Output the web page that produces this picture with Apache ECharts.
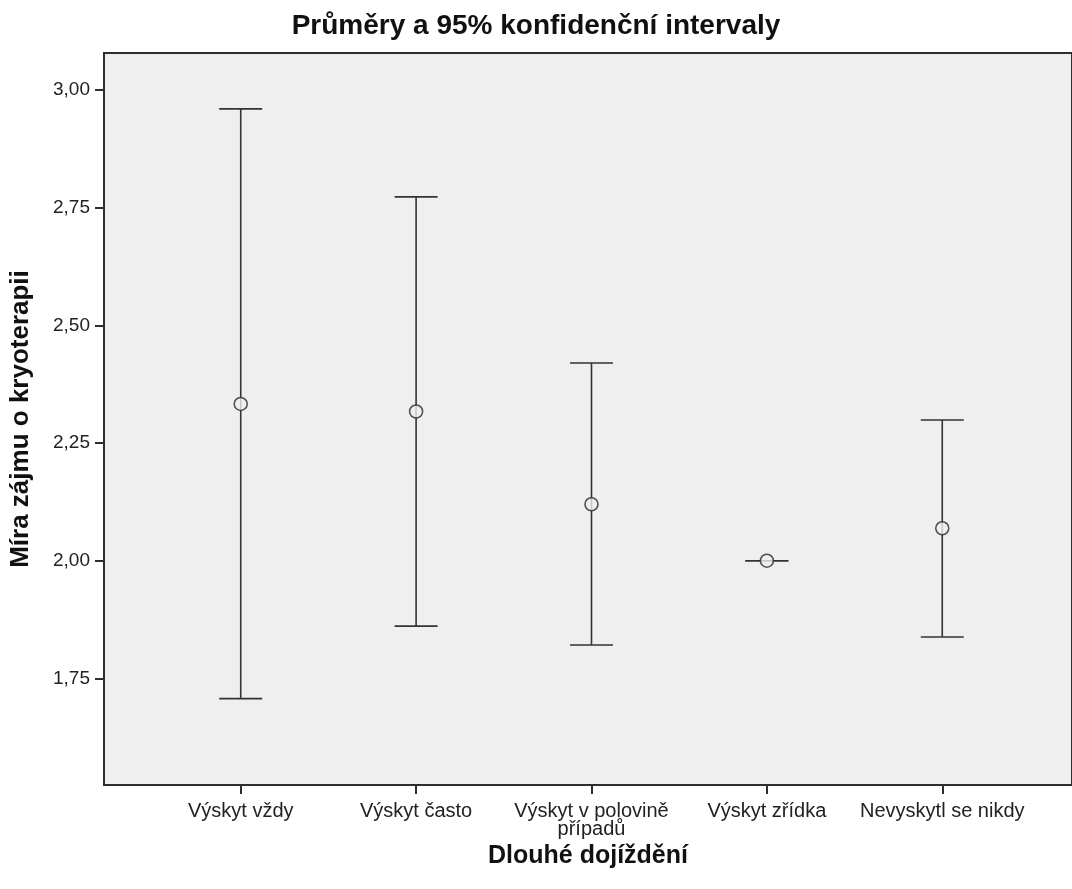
<!DOCTYPE html>
<html>
<head>
<meta charset="utf-8">
<script src="https://cdn.jsdelivr.net/npm/echarts@6/dist/echarts.min.js"></script>
<style>
  html, body { margin: 0; padding: 0; background: #ffffff; }
  #chart { width: 1072px; height: 889px; }
</style>
</head>
<body>
<div id="chart"></div>
<script>
// Groups on the horizontal axis
const categories = ['Výskyt vždy', 'Výskyt často', 'Výskyt v polovině\npřípadů', 'Výskyt zřídka', 'Nevyskytl se nikdy'];
// Group means and 95% confidence limits
const means = [2.333, 2.317, 2.120, 2.000, 2.069];
const lowerCI = [1.707, 1.861, 1.821, 2.000, 1.838];
const upperCI = [2.960, 2.773, 2.420, 2.000, 2.299];
// Tick values on the vertical axis (decimal comma labels)
const yTicks = [1.75, 2.00, 2.25, 2.50, 2.75, 3.00];

const FONT = "'Liberation Sans', Arial, sans-serif";
const INK = '#2e2e2e';
const PLOT_BG = '#efefef';

const positions = categories.map((_, i) => i + 1);
const barData = positions.map((p, i) => [p, lowerCI[i], upperCI[i]]);
const meanData = positions.map((p, i) => [p, means[i]]);

const chart = echarts.init(document.getElementById('chart'), null, { renderer: 'canvas' });

chart.setOption({
  animation: false,
  backgroundColor: '#ffffff',
  title: {
    text: 'Průměry a 95% konfidenční intervaly',
    left: 'center',
    top: 7,
    textStyle: { fontFamily: FONT, fontSize: 28, fontWeight: 'bold', color: '#111' }
  },
  grid: {
    left: 104,
    right: -2,
    top: 53,
    bottom: 104,
    show: true,
    backgroundColor: PLOT_BG,
    borderColor: INK,
    borderWidth: 2
  },
  xAxis: {
    type: 'value',
    min: 0.2205,
    max: 5.7397,
    name: 'Dlouhé dojíždění',
    nameLocation: 'middle',
    nameGap: 54,
    nameTextStyle: { fontFamily: FONT, fontSize: 25, fontWeight: 'bold', color: '#111' },
    splitLine: { show: false },
    axisLine: { show: true, onZero: false, lineStyle: { color: INK, width: 2 } },
    axisTick: {
      show: true,
      customValues: positions,
      length: 9,
      lineStyle: { color: INK, width: 2 }
    },
    axisLabel: {
      customValues: positions,
      margin: 17,
      fontFamily: FONT,
      fontSize: 20,
      color: '#222',
      lineHeight: 18,
      formatter: v => categories[Math.round(v) - 1] || ''
    }
  },
  yAxis: {
    type: 'value',
    min: 1.5235,
    max: 3.0786,
    name: 'Míra zájmu o kryoterapii',
    nameLocation: 'middle',
    nameGap: 70,
    nameTextStyle: { fontFamily: FONT, fontSize: 26, fontWeight: 'bold', color: '#111' },
    splitLine: { show: false },
    axisLine: { show: true, onZero: false, lineStyle: { color: INK, width: 2 } },
    axisTick: {
      show: true,
      customValues: yTicks,
      length: 9,
      lineStyle: { color: INK, width: 2 }
    },
    axisLabel: {
      customValues: yTicks,
      margin: 14,
      fontFamily: FONT,
      fontSize: 19,
      color: '#222',
      formatter: v => v.toFixed(2).replace('.', ',')
    }
  },
  series: [
    {
      // Confidence interval whiskers with end caps
      type: 'custom',
      data: barData,
      z: 2,
      renderItem: function (params, api) {
        const x = api.value(0);
        const lo = api.coord([x, api.value(1)]);
        const hi = api.coord([x, api.value(2)]);
        const half = 21.5;
        const style = { stroke: '#333', lineWidth: 1.6 };
        return {
          type: 'group',
          children: [
            { type: 'line', shape: { x1: lo[0], y1: lo[1], x2: hi[0], y2: hi[1] }, style },
            { type: 'line', shape: { x1: hi[0] - half, y1: hi[1], x2: hi[0] + half, y2: hi[1] }, style },
            { type: 'line', shape: { x1: lo[0] - half, y1: lo[1], x2: lo[0] + half, y2: lo[1] }, style }
          ]
        };
      }
    },
    {
      // Group means
      type: 'scatter',
      data: meanData,
      z: 3,
      symbol: 'circle',
      symbolSize: 13,
      itemStyle: { color: PLOT_BG, borderColor: '#2a2a2a', borderWidth: 1.6 }
    }
  ]
});
</script>
</body>
</html>
